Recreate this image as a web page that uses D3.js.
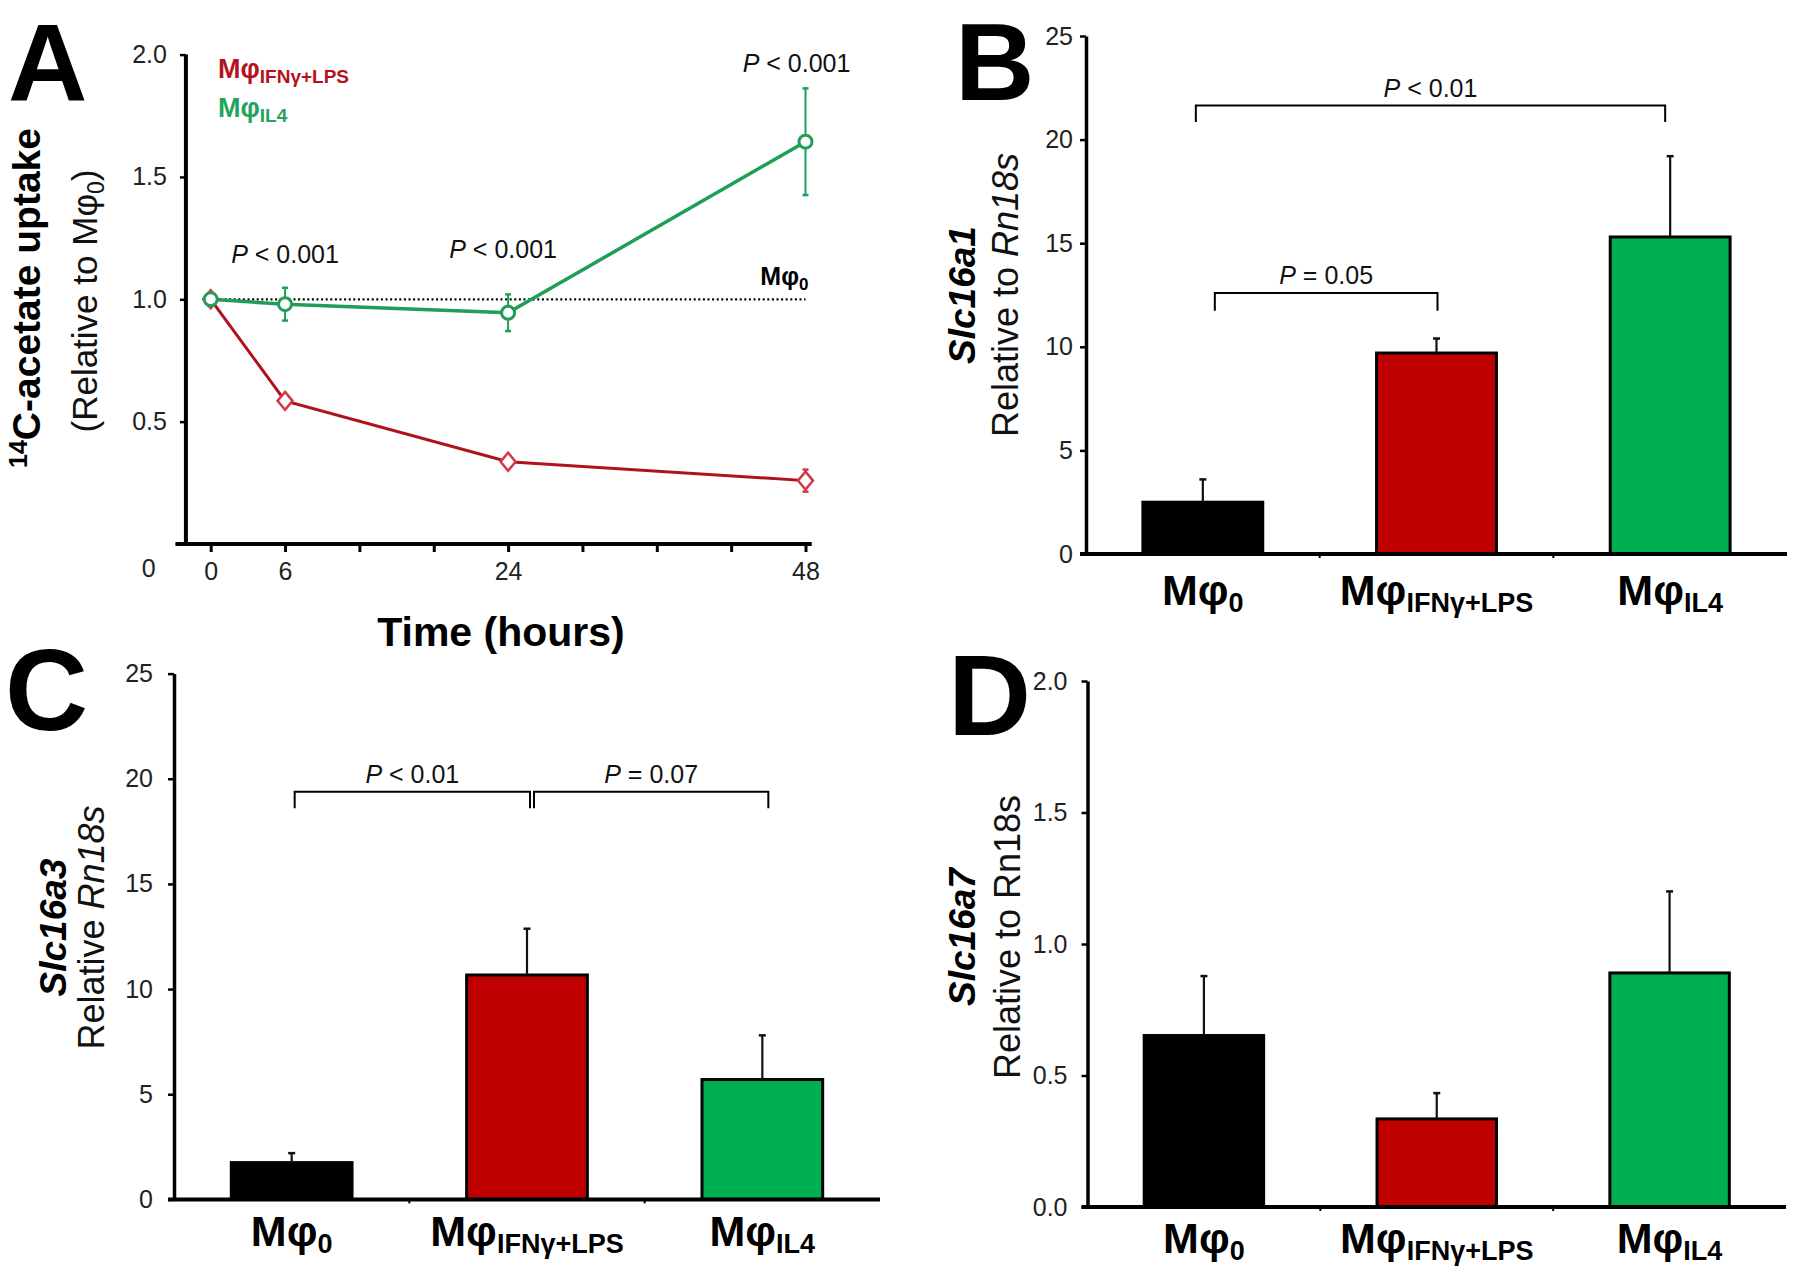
<!DOCTYPE html>
<html><head><meta charset="utf-8">
<script src="https://cdn.jsdelivr.net/npm/d3@7"></script>
<style>
html,body{margin:0;padding:0;background:#fff;}
svg text{font-family:"Liberation Sans",Arial,sans-serif;}
</style></head>
<body><svg id="fig" width="1800" height="1274"></svg>
<script>
// ---------- DATA ----------
const groupMain = ["Mφ", "Mφ", "Mφ"];
const groupSub = ["0", "IFNγ+LPS", "IL4"];
const barColors = ["#000000", "#c00000", "#00b050"];

// Panel A: time course
const timeHours = [0, 6, 24, 48];
const timeTicks = [0, 6, 12, 18, 24, 30, 36, 42, 48];
const timeTickLabels = ["0", "6", "", "", "24", "", "", "", "48"];
const il4Mean = [1.0, 0.98, 0.945, 1.644];
const il4Err = [0.012, 0.067, 0.075, 0.218];
const ifnMean = [1.0, 0.585, 0.336, 0.259];
const ifnErr = [0.0, 0.015, 0.018, 0.045];
const pTimeLabels = [{t: 6, v: 1.15, text: " < 0.001"}, {t: 24, v: 1.17, text: " < 0.001"}, {t: 48, v: 1.93, text: " < 0.001"}];
const aYTicks = [0.5, 1.0, 1.5, 2.0];

// Panel B: Slc16a1
const slc16a1Mean = [2.5, 9.7, 15.3];
const slc16a1Err = [1.1, 0.7, 3.9];
const bYTicks = [0, 5, 10, 15, 20, 25];
const bBrackets = [{from: 0, to: 2, top: 21.64, drop: 20.85, text: " < 0.01"},
                   {from: 0, to: 1, top: 12.6, drop: 11.74, text: " = 0.05"}];

// Panel C: Slc16a3
const slc16a3Mean = [1.75, 10.67, 5.7];
const slc16a3Err = [0.45, 2.2, 2.1];
const cYTicks = [0, 5, 10, 15, 20, 25];
const cBrackets = [{from: 0, to: 1, top: 19.38, drop: 18.6, text: " < 0.01"},
                   {from: 1, to: 2, top: 19.38, drop: 18.6, text: " = 0.07"}];

// Panel D: Slc16a7
const slc16a7Mean = [0.652, 0.335, 0.89];
const slc16a7Err = [0.226, 0.098, 0.31];
const dYTicks = [0.0, 0.5, 1.0, 1.5, 2.0];

// ---------- DRAW ----------
const svg = d3.select("#fig");
svg.append("rect").attr("width", 1800).attr("height", 1274).attr("fill", "#fff");

function mphi(g, x, y, sub, fsMain, fsSub, dy, anchor, color) {
  const t = g.append("text").attr("x", x).attr("y", y)
    .attr("text-anchor", anchor).attr("font-weight", "bold").attr("fill", color || "#000");
  t.append("tspan").attr("font-size", fsMain).text("Mφ");
  t.append("tspan").attr("font-size", fsSub).attr("dy", dy).text(sub);
  return t;
}

function panelLetter(x, y, L, fs) {
  svg.append("text").attr("x", x).attr("y", y).attr("font-size", fs)
    .attr("font-weight", "bold").text(L);
}

function pText(g, x, y, rest, anchor) {
  const t = g.append("text").attr("x", x).attr("y", y).attr("font-size", 25)
    .attr("text-anchor", anchor || "middle").attr("fill", "#111");
  t.append("tspan").attr("font-style", "italic").text("P");
  t.append("tspan").text(rest);
}

function styleAxis(g, w) {
  g.select(".domain").attr("stroke", "#000").attr("stroke-width", w);
  g.selectAll(".tick line").attr("stroke", "#000").attr("stroke-width", 2.5);
  g.selectAll(".tick text").attr("font-size", 25).attr("font-family", "Liberation Sans, Arial, sans-serif").attr("fill", "#222");
}

// ----- Bar panel -----
function barPanel(cfg) {
  const g = svg.append("g");
  const x = d3.scaleBand().domain(d3.range(3)).range([cfg.x0, cfg.x1])
    .paddingInner(0.487).paddingOuter(0.2435);
  const y = d3.scaleLinear().domain([0, cfg.max]).range([cfg.y0, cfg.yTop]);
  const cx = i => x(i) + x.bandwidth() / 2;

  // bars
  g.selectAll("rect.bar").data(cfg.mean).enter().append("rect")
    .attr("x", (d, i) => x(i)).attr("width", x.bandwidth())
    .attr("y", d => y(d)).attr("height", d => y(0) - y(d))
    .attr("fill", (d, i) => barColors[i]).attr("stroke", "#000").attr("stroke-width", 3);
  // error bars (upper only)
  const eb = g.selectAll("g.eb").data(cfg.mean).enter().append("g");
  eb.append("line").attr("x1", (d, i) => cx(i)).attr("x2", (d, i) => cx(i))
    .attr("y1", d => y(d)).attr("y2", (d, i) => y(d + cfg.err[i])).attr("stroke", "#111").attr("stroke-width", 2.2);
  eb.append("line").attr("x1", (d, i) => cx(i) - 3.5).attr("x2", (d, i) => cx(i) + 3.5)
    .attr("y1", (d, i) => y(d + cfg.err[i])).attr("y2", (d, i) => y(d + cfg.err[i])).attr("stroke", "#111").attr("stroke-width", 2.5);

  // y axis
  const ya = g.append("g").attr("transform", `translate(${cfg.x0},0)`)
    .call(d3.axisLeft(y).tickValues(cfg.ticks).tickFormat(cfg.fmt).tickSize(6).tickSizeOuter(0).tickPadding(cfg.pad));
  styleAxis(ya, 3.5);
  // x axis
  const xa = g.append("g").attr("transform", `translate(0,${cfg.y0})`)
    .call(d3.axisBottom(x).tickSize(0).tickSizeOuter(0).tickFormat(""));
  styleAxis(xa, 4);
  xa.select(".domain").attr("d", `M${cfg.x0 - 6},0H${cfg.x1}`);
  // boundary ticks
  g.selectAll("line.bt").data([1, 2]).enter().append("line")
    .attr("x1", d => cfg.x0 + x.step() * d).attr("x2", d => cfg.x0 + x.step() * d)
    .attr("y1", cfg.y0).attr("y2", cfg.y0 + 4).attr("stroke", "#000").attr("stroke-width", 2);

  // category labels
  groupSub.forEach((s, i) => {
    mphi(g, cx(i), cfg.y0 + cfg.labDy, s, 43, 27, 7, "middle");
  });

  // brackets
  (cfg.brackets || []).forEach((b, k) => {
    const xa1 = cx(b.from) + cfg.bOff[k][0];
    const xa2 = cx(b.to) + cfg.bOff[k][1];
    g.append("path").attr("d", `M${xa1},${y(b.drop)}V${y(b.top)}H${xa2}V${y(b.drop)}`)
      .attr("fill", "none").attr("stroke", "#000").attr("stroke-width", 2);
    pText(g, (xa1 + xa2) / 2, y(b.top) - 9, b.text);
  });

  // y titles
  const ty = (cfg.y0 + cfg.yTop) / 2 + cfg.titleDy;
  g.append("text").attr("transform", `translate(${cfg.titleX},${ty}) rotate(-90)`)
    .attr("text-anchor", "middle").attr("font-size", 37).attr("font-weight", "bold").attr("font-style", "italic")
    .text(cfg.gene);
  const t2 = g.append("text").attr("transform", `translate(${cfg.titleX2},${ty}) rotate(-90)`)
    .attr("text-anchor", "middle").attr("font-size", 36).attr("fill", "#111");
  cfg.rel.forEach(p => t2.append("tspan").attr("font-style", p[1] ? "italic" : "normal").text(p[0]));
}

barPanel({x0: 1086, x1: 1787, y0: 554, yTop: 36, max: 25, mean: slc16a1Mean, err: slc16a1Err,
  ticks: bYTicks, fmt: d3.format("d"), pad: 7, brackets: bBrackets, bOff: [[-7, -5], [12, 1]], labDy: 51,
  gene: "Slc16a1", rel: [["Relative to ", false], ["Rn18s", true]], titleX: 975, titleX2: 1018, titleDy: 0});
barPanel({x0: 174, x1: 880, y0: 1199.4, yTop: 673.6, max: 25, mean: slc16a3Mean, err: slc16a3Err,
  ticks: cYTicks, fmt: d3.format("d"), pad: 15, brackets: cBrackets, bOff: [[3, 3], [7, 6]], labDy: 47,
  gene: "Slc16a3", rel: [["Relative ", false], ["Rn18s", true]], titleX: 66, titleX2: 104, titleDy: -9});
barPanel({x0: 1087.5, x1: 1786, y0: 1207, yTop: 681, max: 2.0, mean: slc16a7Mean, err: slc16a7Err,
  ticks: dYTicks, fmt: d3.format(".1f"), pad: 14, brackets: [], bOff: [], labDy: 46,
  gene: "Slc16a7", rel: [["Relative to Rn18s", false]], titleX: 975, titleX2: 1020, titleDy: -7});

// ----- Panel A -----
(function () {
  const g = svg.append("g");
  const x = d3.scaleLinear().domain([0, 48]).range([210.7, 805.5]);
  const y = d3.scaleLinear().domain([0, 2]).range([544, 54.6]);
  const red = "#b0121d", green = "#1f9e57", redMk = "#cf3a48";

  // axes
  const ya = g.append("g").attr("transform", `translate(${x(-2)},0)`)
    .call(d3.axisLeft(y).tickValues(aYTicks).tickFormat(d3.format(".1f")).tickSize(6).tickSizeOuter(0).tickPadding(13));
  styleAxis(ya, 4);
  ya.select(".domain").attr("d", `M0,${y(0)}V${y(2)}`);
  const xa = g.append("g").attr("transform", `translate(0,${y(0)})`)
    .call(d3.axisBottom(x).tickValues(timeTicks).tickFormat((d, i) => timeTickLabels[i]).tickSize(8).tickSizeOuter(0).tickPadding(10));
  styleAxis(xa, 4);
  xa.selectAll(".tick line").attr("stroke-width", 3);
  xa.select(".domain").attr("d", `M${x(-2.85)},0H${x(48.5)}`);
  g.append("text").attr("x", x(-5)).attr("y", y(0) + 33).attr("text-anchor", "middle")
    .attr("font-size", 25).attr("fill", "#222").text("0");

  // reference line Mφ0
  g.append("line").attr("x1", x(0)).attr("x2", x(48)).attr("y1", y(1)).attr("y2", y(1))
    .attr("stroke", "#000").attr("stroke-width", 2.2).attr("stroke-dasharray", "2,2.6");

  const line = d3.line().x((d, i) => x(timeHours[i])).y(d => y(d));
  g.append("path").attr("d", line(ifnMean)).attr("fill", "none").attr("stroke", red).attr("stroke-width", 3);
  g.append("path").attr("d", line(il4Mean)).attr("fill", "none").attr("stroke", green).attr("stroke-width", 3.5);

  function errBars(mean, err, col) {
    mean.forEach((m, i) => {
      if (err[i] <= 0) return;
      const cxp = x(timeHours[i]);
      g.append("line").attr("x1", cxp).attr("x2", cxp).attr("y1", y(m - err[i])).attr("y2", y(m + err[i]))
        .attr("stroke", col).attr("stroke-width", 2);
      [m - err[i], m + err[i]].forEach(v => g.append("line").attr("x1", cxp - 3).attr("x2", cxp + 3)
        .attr("y1", y(v)).attr("y2", y(v)).attr("stroke", col).attr("stroke-width", 2.5));
    });
  }
  errBars(ifnMean, ifnErr, redMk);
  errBars(il4Mean, il4Err, green);

  // markers
  g.selectAll("path.dia").data(ifnMean).enter().append("path")
    .attr("d", "M0,-9L7.5,0L0,9L-7.5,0Z")
    .attr("transform", (d, i) => `translate(${x(timeHours[i])},${y(d)})`)
    .attr("fill", "#fff").attr("stroke", redMk).attr("stroke-width", 2.5);
  g.selectAll("circle.c").data(il4Mean).enter().append("circle")
    .attr("cx", (d, i) => x(timeHours[i])).attr("cy", d => y(d)).attr("r", 6.5)
    .attr("fill", "#fff").attr("stroke", green).attr("stroke-width", 3);

  // p labels
  pTimeLabels.forEach(p => pText(g, x(p.t) + (p.t === 48 ? -9 : (p.t === 6 ? 0 : -5)), y(p.v), p.text));

  // Mφ0 label
  mphi(g, x(48) + 3, y(1) - 14, "0", 25, 17, 5, "end");

  // legend
  mphi(g, 218, 78, "IFNγ+LPS", 27, 19, 5, "start", "#b5121d");
  mphi(g, 218, 117, "IL4", 27, 19, 5, "start", "#25a35c");

  // axis titles
  g.append("text").attr("x", 501).attr("y", 646).attr("text-anchor", "middle")
    .attr("font-size", 41).attr("font-weight", "bold").text("Time (hours)");
  const t1 = g.append("text").attr("transform", `translate(40,298) rotate(-90)`)
    .attr("text-anchor", "middle").attr("font-size", 39).attr("font-weight", "bold");
  t1.append("tspan").attr("font-size", 25).attr("dy", -13).text("14");
  t1.append("tspan").attr("dy", 13).text("C-acetate uptake");
  const t2 = g.append("text").attr("transform", `translate(97,301) rotate(-90)`)
    .attr("text-anchor", "middle").attr("font-size", 35).attr("fill", "#111");
  t2.append("tspan").text("(Relative to Mφ");
  t2.append("tspan").attr("font-size", 23).attr("dy", 7).text("0");
  t2.append("tspan").attr("dy", -7).text(")");
})();

panelLetter(8, 100, "A", 110);
panelLetter(955, 100, "B", 110);
panelLetter(5, 730, "C", 115);
panelLetter(948, 735, "D", 115);
</script>
</body></html>
